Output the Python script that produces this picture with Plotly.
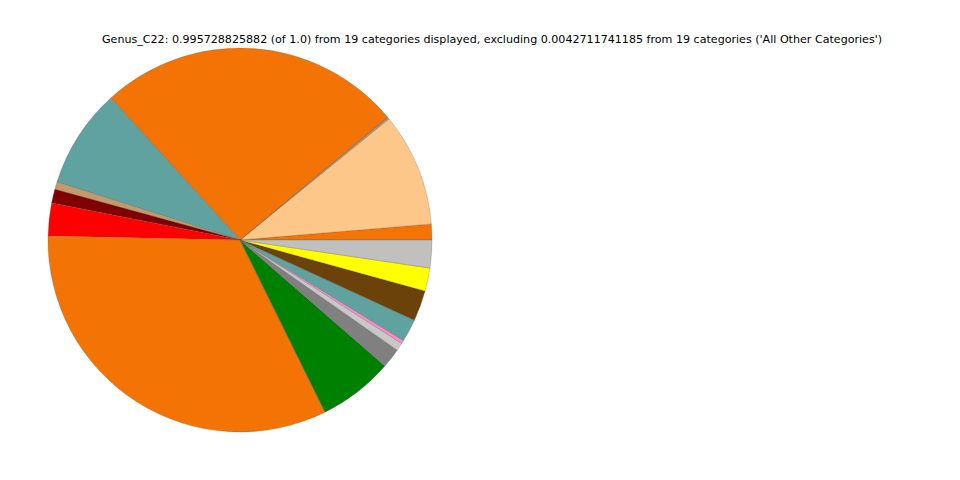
import plotly.graph_objects as go

categories = [f"Genus {i}" for i in range(1, 19)]
values_deg = [4.8, 34.3, 0.5, 0.3, 92.4, 30.1, 2.3, 4.2, 9.9, 117.5,
              22.7, 6.0, 2.4, 1.0, 6.9, 9.3, 7.0, 8.4]
colors = ["#F37404", "#FDC78A", "#C49A6C", "#D2691E", "#F37404", "#5FA29F",
          "#C49A6C", "#800000", "#FF0000", "#F37404", "#008000", "#808080",
          "#C8C8C8", "#FF8CC6", "#5FA29F", "#6B430A", "#FFFF00", "#C0C0C0"]
title_text = ("Genus_C22: 0.995728825882 (of 1.0) from 19 categories displayed, "
              "excluding 0.0042711741185 from 19 categories ('All Other Categories')")

fig = go.Figure(go.Pie(
    labels=categories,
    values=values_deg,
    marker=dict(colors=colors, line=dict(color="rgba(80,80,80,0.5)", width=0.5)),
    sort=False,
    direction="counterclockwise",
    rotation=85.2,
    textinfo="none",
    showlegend=False,
    domain=dict(x=[40 / 960, 424 / 960], y=[56 / 480, 440 / 480]),
))

fig.add_annotation(
    text=title_text, x=484.5 / 960, y=1 - 32 / 480, xref="paper", yref="paper",
    showarrow=False, xanchor="center", yanchor="middle",
    font=dict(family="DejaVu Sans", size=11.1, color="black"),
)

fig.update_layout(
    width=960, height=480,
    margin=dict(l=0, r=0, t=0, b=0),
    paper_bgcolor="white", plot_bgcolor="white",
)

fig.write_html("out.html")
